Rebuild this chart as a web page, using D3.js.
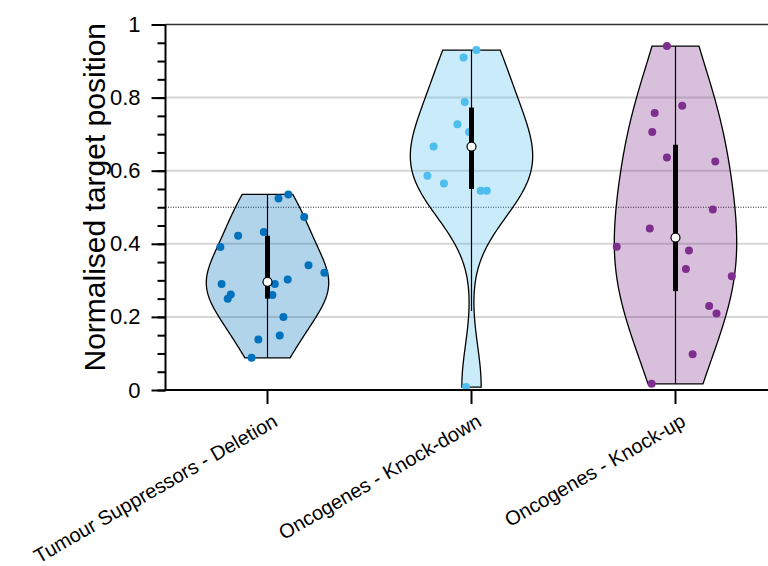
<!DOCTYPE html>
<html>
<head>
<meta charset="utf-8">
<script src="https://cdn.jsdelivr.net/npm/d3@7"></script>
<style>
  body { margin: 0; background: #fff; }
  svg { font-family: "Liberation Sans", Arial, Helvetica, sans-serif; }
</style>
</head>
<body>
<div id="chart"></div>
<script>
const width = 768;
const height = 566;

// groups
const groups = ['Tumour Suppressors - Deletion', 'Oncogenes - Knock-down', 'Oncogenes - Knock-up'];
const colors = ['#0072BD', '#4DBEEE', '#7E2F8E'];

// values
const tsDeletion = [0.535, 0.524, 0.473, 0.422, 0.432, 0.391, 0.341, 0.321, 0.290, 0.290,
                    0.302, 0.261, 0.250, 0.260, 0.200, 0.138, 0.149, 0.088];
const ogKnockDown = [0.930, 0.910, 0.788, 0.727, 0.706, 0.666, 0.586, 0.565, 0.545, 0.545, 0.008];
const ogKnockUp = [0.941, 0.778, 0.758, 0.706, 0.636, 0.625, 0.494, 0.442, 0.392, 0.382,
                   0.331, 0.311, 0.230, 0.209, 0.098, 0.017];

// horizontal jitter of each point, as a fraction of the violin half width
const tsJitter = [0.34, 0.18, 0.60, -0.48, -0.06, -0.77, 0.67, 0.93, -0.75, 0.12,
                  0.33, -0.60, -0.65, 0.08, 0.26, -0.15, 0.20, -0.26];
const kdJitter = [0.08, -0.13, -0.11, -0.23, -0.04, -0.62, -0.72, -0.45, 0.15, 0.25, -0.09];
const kuJitter = [-0.14, 0.11, -0.34, -0.38, -0.14, 0.65, 0.61, -0.42, -0.96, 0.22,
                  0.17, 0.92, 0.55, 0.67, 0.28, -0.39];

const yTicks = [0, 0.2, 0.4, 0.6, 0.8, 1];
const yMinorTicks = d3.range(0, 1.0001, 0.05);
const gridLines = [0.2, 0.4, 0.6, 0.8];
const refLine = 0.5;

const allValues = [tsDeletion, ogKnockDown, ogKnockUp];
const allJitter = [tsJitter, kdJitter, kuJitter];

const margin = {top: 24.5, left: 165.5, bottom: 176};

var svg = d3.select('#chart').append('svg')
    .attr('width', width)
    .attr('height', height);

var xScale = d3.scaleBand().domain(groups).range([margin.left, margin.left + 612]);
var yScale = d3.scaleLinear().domain([0, 1]).range([height - margin.bottom, margin.top]);
var halfWidth = 0.3 * xScale.bandwidth();

// matlab style quantile
function quantile(data, p) {
    var s = data.slice().sort(d3.ascending);
    var n = s.length;
    var pos = n * p + 0.5;
    if (pos <= 1) return s[0];
    if (pos >= n) return s[n - 1];
    var i = Math.floor(pos);
    return s[i - 1] + (pos - i) * (s[i] - s[i - 1]);
}

// gaussian kernel density, bandwidth as ksdensity default
function density(data) {
    var n = data.length;
    var med = d3.median(data);
    var sig = d3.median(data, d => Math.abs(d - med)) / 0.6745;
    var bw = sig * Math.pow(4 / (3 * n), 0.2);
    var lo = d3.min(data), hi = d3.max(data);
    var pts = d3.range(100).map(i => lo + (hi - lo) * i / 99);
    var kde = y => d3.mean(data, d => Math.exp(-0.5 * Math.pow((y - d) / bw, 2))) / (bw * Math.sqrt(2 * Math.PI));
    var dens = pts.map(y => [y, kde(y)]);
    var maxD = d3.max(dens, d => d[1]);
    return {dens: dens, maxD: maxD};
}

// gridlines
svg.append('g')
    .selectAll('line')
    .data(gridLines)
    .enter().append('line')
    .attr('x1', margin.left).attr('x2', width)
    .attr('y1', d => yScale(d)).attr('y2', d => yScale(d))
    .attr('stroke', '#d6d6d6')
    .attr('stroke-width', 2);

// dotted line at 0.5
svg.append('line')
    .attr('x1', margin.left).attr('x2', width)
    .attr('y1', yScale(refLine)).attr('y2', yScale(refLine))
    .attr('stroke', '#222')
    .attr('stroke-width', 1)
    .attr('stroke-dasharray', '1,1.5');

groups.forEach(function(g, gi) {
    var data = allValues[gi];
    var cx = xScale(g) + xScale.bandwidth() / 2;
    var kd = density(data);
    var w = d => halfWidth * d / kd.maxD;

    // violin
    var dens = kd.dens;
    var outline = dens.map(d => [cx - w(d[1]), yScale(d[0])])
        .concat(dens.slice().reverse().map(d => [cx + w(d[1]), yScale(d[0])]));
    svg.append('path')
        .attr('d', d3.line()(outline) + 'Z')
        .attr('fill', colors[gi])
        .attr('fill-opacity', 0.3)
        .attr('stroke', '#000')
        .attr('stroke-width', 1.3);

    // points
    svg.append('g')
        .selectAll('circle')
        .data(data)
        .enter().append('circle')
        .attr('cx', (d, i) => cx + allJitter[gi][i] * halfWidth)
        .attr('cy', d => yScale(d))
        .attr('r', 4)
        .attr('fill', colors[gi]);

    // whiskers and box
    var q1 = quantile(data, 0.25), q2 = quantile(data, 0.5), q3 = quantile(data, 0.75);
    var iqr = q3 - q1;
    var lowW = Math.max(q1 - 1.5 * iqr, d3.min(data));
    var hiW = Math.min(q3 + 1.5 * iqr, d3.max(data));

    svg.append('line')
        .attr('x1', cx).attr('x2', cx)
        .attr('y1', yScale(lowW)).attr('y2', yScale(hiW))
        .attr('stroke', '#000')
        .attr('stroke-width', 1.2);

    svg.append('rect')
        .attr('x', cx - 2.5)
        .attr('width', 5)
        .attr('y', yScale(q3))
        .attr('height', yScale(q1) - yScale(q3))
        .attr('fill', '#000');

    svg.append('circle')
        .attr('cx', cx)
        .attr('cy', yScale(q2))
        .attr('r', 4.5)
        .attr('fill', '#fff')
        .attr('stroke', '#000')
        .attr('stroke-width', 1.2);
});

// top border
svg.append('line')
    .attr('x1', margin.left).attr('x2', width)
    .attr('y1', yScale(1)).attr('y2', yScale(1))
    .attr('stroke', '#333')
    .attr('stroke-width', 1.5);

// y axis
var yAxis = svg.append('g')
    .attr('transform', 'translate(' + margin.left + ',0)')
    .call(d3.axisLeft(yScale).tickValues(yTicks).tickFormat(d3.format('')).tickSize(14).tickPadding(11));
yAxis.select('.domain').attr('stroke-width', 2).attr('d', 'M0,' + yScale(0) + 'V' + yScale(1));
yAxis.selectAll('.tick line').attr('stroke-width', 2);
yAxis.selectAll('text').attr('font-size', 22).attr('fill', '#000');

svg.append('g')
    .attr('transform', 'translate(' + margin.left + ',0)')
    .call(d3.axisLeft(yScale).tickValues(yMinorTicks).tickFormat('').tickSize(8))
    .call(g => g.select('.domain').remove())
    .selectAll('.tick line').attr('stroke-width', 2);

// x axis
var xAxis = svg.append('g')
    .attr('transform', 'translate(0,' + yScale(0) + ')')
    .call(d3.axisBottom(xScale).tickSize(14).tickSizeOuter(0));
xAxis.select('.domain').attr('stroke-width', 2).attr('d', 'M' + (margin.left - 1) + ',0H' + width);
xAxis.selectAll('.tick line').attr('stroke-width', 2);
xAxis.selectAll('text')
    .attr('font-size', 20)
    .attr('fill', '#000')
    .attr('text-anchor', 'end')
    .attr('x', 0).attr('y', 0).attr('dy', '0.35em')
    .attr('transform', 'translate(8,29) rotate(-30)');

// y axis label
svg.append('text')
    .attr('transform', 'translate(105,' + ((yScale(0) + yScale(1)) / 2 - 10) + ') rotate(-90)')
    .attr('text-anchor', 'middle')
    .attr('font-size', 30)
    .attr('fill', '#000')
    .text('Normalised target position');
</script>
</body>
</html>
